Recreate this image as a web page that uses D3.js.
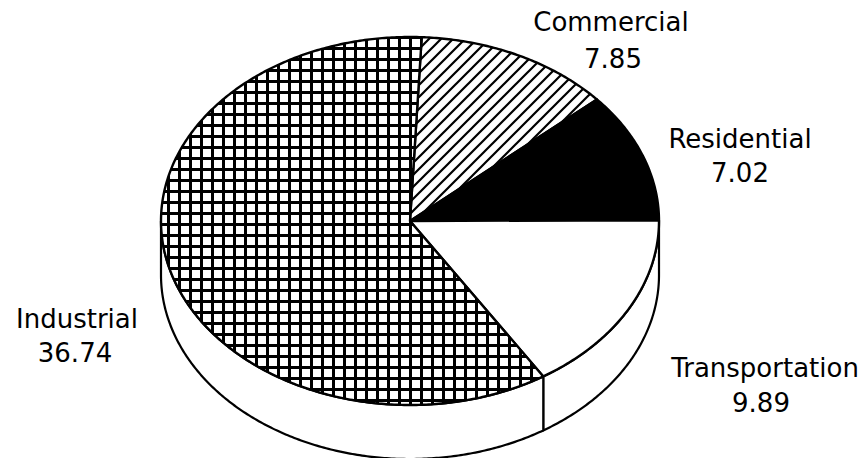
<!DOCTYPE html>
<html><head><meta charset="utf-8">
<script src="https://cdn.jsdelivr.net/npm/d3@7"></script>
<style>body{margin:0;background:#fff}svg{display:block}</style>
</head><body><svg id="c" width="867" height="458"></svg>
<script>
const categories = ["Commercial", "Residential", "Transportation", "Industrial"];
const values = [7.85, 7.02, 9.89, 36.74];
const valueLabels = ["7.85", "7.02", "9.89", "36.74"];

// styling / layout (not data)
const fills = ["url(#hatch)", "#000", "#fff", "url(#grid)"];
const labelPos = [
  {x: 611, y: 31, vx: 613, vy: 68},
  {x: 740, y: 148, vx: 740, vy: 182},
  {x: 765, y: 377, vx: 761, vy: 412},
  {x: 77, y: 328, vx: 75, vy: 362}
];

const W = 867, H = 458;
const cx = 410, cy = 221, rx = 249, ry = 184, depth = 54;
const startOffset = 2.7 * Math.PI / 180;

const svg = d3.select("#c");
svg.append("rect").attr("width", W).attr("height", H).attr("fill", "#fff");
const defs = svg.append("defs");

const hatch = defs.append("pattern").attr("id", "hatch")
  .attr("patternUnits", "userSpaceOnUse").attr("width", 12).attr("height", 12);
hatch.append("rect").attr("width", 12).attr("height", 12).attr("fill", "#fff");
hatch.append("path").attr("d", "M-3,3L3,-3M0,12L12,0M9,15L15,9")
  .attr("stroke", "#000").attr("stroke-width", 2.2);

const grid = defs.append("pattern").attr("id", "grid")
  .attr("patternUnits", "userSpaceOnUse").attr("width", 11).attr("height", 11)
  .attr("x", 2).attr("y", 3);
grid.append("rect").attr("width", 11).attr("height", 11).attr("fill", "#fff");
grid.append("path").attr("d", "M0,1.5H11M1.5,0V11")
  .attr("stroke", "#000").attr("stroke-width", 3);

const pie = d3.pie().sort(null).startAngle(startOffset).endAngle(startOffset + 2 * Math.PI);
const arcs = pie(values);

const pt = (a, dy = 0) => [cx + rx * Math.sin(a), cy - ry * Math.cos(a) + dy];
function arcPts(a0, a1, dy = 0) {
  const n = Math.max(2, Math.ceil(Math.abs(a1 - a0) / 0.01));
  const out = [];
  for (let i = 0; i <= n; i++) out.push(pt(a0 + (a1 - a0) * i / n, dy));
  return out;
}
const line = d3.line();

// sides (front half: angle in [pi/2, 3pi/2])
const sideG = svg.append("g");
arcs.forEach((d, i) => {
  const s0 = Math.max(d.startAngle, Math.PI / 2);
  const s1 = Math.min(d.endAngle, 3 * Math.PI / 2);
  if (s1 <= s0) return;
  const pts = arcPts(s0, s1).concat(arcPts(s1, s0, depth));
  sideG.append("path").attr("d", line(pts) + "Z")
    .attr("fill", "#fff").attr("stroke", "#000").attr("stroke-width", 2.2)
    .attr("stroke-linejoin", "round");
});

// top face
const topG = svg.append("g");
arcs.forEach((d, i) => {
  const pts = [[cx, cy]].concat(arcPts(d.startAngle, d.endAngle));
  topG.append("path").attr("d", line(pts) + "Z")
    .attr("fill", fills[i]).attr("stroke", "#000").attr("stroke-width", 2.4)
    .attr("stroke-linejoin", "round");
});

// labels
const lg = svg.append("g").attr("font-family", "DejaVu Sans, sans-serif")
  .attr("font-size", 26).attr("fill", "#000").attr("text-anchor", "middle");
categories.forEach((c, i) => {
  const p = labelPos[i];
  lg.append("text").attr("x", p.x).attr("y", p.y).text(c);
  lg.append("text").attr("x", p.vx).attr("y", p.vy).text(valueLabels[i]);
});
</script></body></html>
